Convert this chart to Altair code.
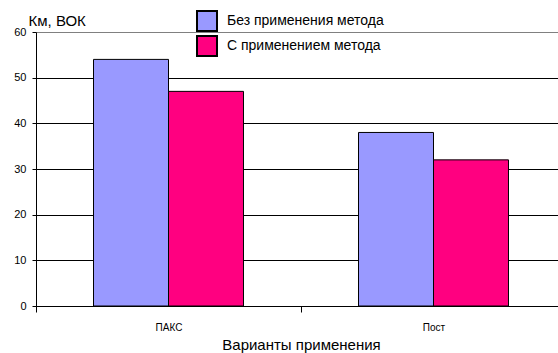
import altair as alt
import pandas as pd

categories = ["ПАКС", "Пост"]
series = ["Без применения метода", "С применением метода"]
values_without = [54, 38]
values_with = [47, 32]
colors = ["#9999FF", "#FF0080"]

rows = []
for i, c in enumerate(categories):
    rows.append({"cat": c, "series": series[0], "value": values_without[i]})
    rows.append({"cat": c, "series": series[1], "value": values_with[i]})
df = pd.DataFrame(rows)

FONT = "Liberation Sans"

chart = alt.Chart(df).mark_bar(stroke="black", strokeWidth=1).encode(
    x=alt.X("cat:N", sort=categories,
            scale=alt.Scale(range=[0, 530], paddingInner=0, paddingOuter=0),
            axis=alt.Axis(title="Варианты применения", labelAngle=0, tickBand="extent",
                          domainColor="black", tickColor="black", tickSize=6,
                          labelFontSize=10, labelPadding=10, labelColor="black",
                          titleFontSize=15, titleFontWeight="normal", titleColor="black",
                          titlePadding=5, labelFont=FONT, titleFont=FONT)),
    xOffset=alt.XOffset("series:N", sort=series,
                        scale=alt.Scale(paddingInner=0, paddingOuter=0.767)),
    y=alt.Y("value:Q", scale=alt.Scale(domain=[0, 60], nice=False),
            axis=alt.Axis(title="Км, ВОК", values=[0, 10, 20, 30, 40, 50, 60],
                          titleAngle=0, titleAlign="left", titleBaseline="alphabetic",
                          titleX=-8, titleY=-7, titleFontSize=15, titleFontWeight="normal",
                          titleColor="black", titleFont=FONT,
                          labelFontSize=11, labelFont=FONT, labelColor="black",
                          labelPadding=6, tickSize=4, tickColor="black",
                          domainColor="black",
                          grid=True,
                          gridColor={"condition": {"test": "datum.value === 60", "value": "#808080"}, "value": "black"})),
    color=alt.Color("series:N", sort=series,
                    scale=alt.Scale(domain=series, range=colors),
                    legend=alt.Legend(title=None, orient="none", legendX=160, legendY=-22,
                                      symbolType="square", symbolSize=400,
                                      symbolStrokeColor="black", symbolStrokeWidth=2,
                                      symbolOpacity=1,
                                      labelFontSize=14, labelFont=FONT, labelColor="black",
                                      labelOffset=9, rowPadding=-6)),
).properties(
    width=522, height=274,
    autosize=alt.AutoSizeParams(type="none"),
    padding={"left": 36, "top": 32, "right": 0, "bottom": 47},
).configure_view(stroke=None).configure(background="white")

chart.save("out.html", embed_options={"renderer": "svg", "actions": False})
